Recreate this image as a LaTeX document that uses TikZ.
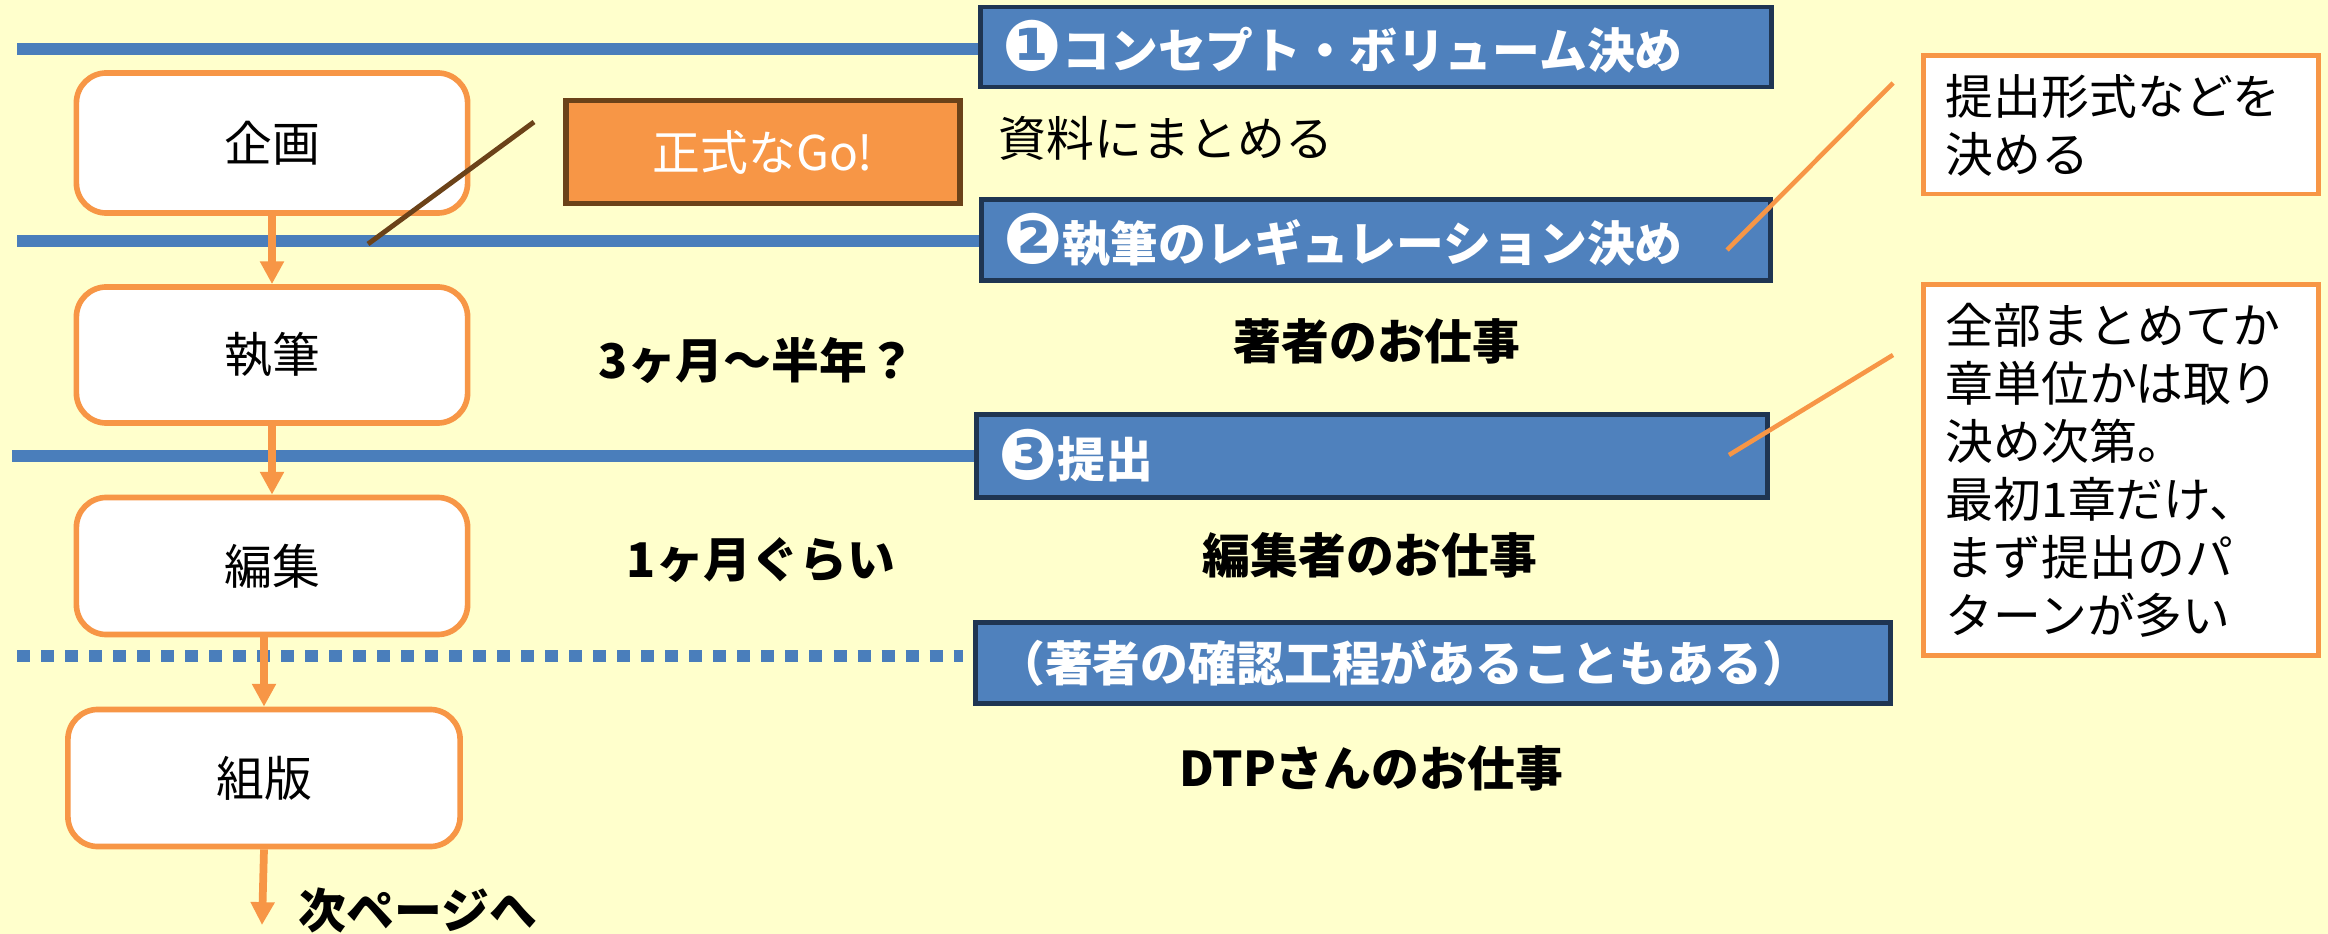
\documentclass[tikz,border=0pt]{standalone}
\usepackage{fontspec}
\setmainfont{Noto Sans CJK JP}
\newfontfamily\dingfont{DejaVu Sans}
\usetikzlibrary{arrows.meta,calc}
\definecolor{bgyellow}{HTML}{FFFFCC}
\definecolor{boxblue}{HTML}{4F81BD}
\definecolor{navy}{HTML}{1F3552}
\definecolor{lineblue}{HTML}{4A7EBB}
\definecolor{myorange}{HTML}{F79646}
\definecolor{mybrown}{HTML}{6B4219}
\newcommand{\bodyfont}{\fontsize{13.6pt}{16.5pt}\selectfont}
\newcommand{\circnum}[1]{{\dingfont\fontsize{20pt}{20pt}\selectfont\raisebox{-0.5pt}{#1}}}
\begin{document}
\begin{tikzpicture}[x=0.01cm,y=-0.01cm,
  lbl/.style={font=\bodyfont, inner sep=0pt},
  blbl/.style={font=\bodyfont\bfseries, inner sep=0pt},
  phase/.style={draw=myorange, line width=1.6pt, fill=white, rounded corners=0.3cm,
    minimum width=3.91cm, minimum height=1.37cm, inner sep=0pt, font=\bodyfont},
  milestone/.style={draw=navy, line width=1.4pt, fill=boxblue, text=white,
    inner xsep=0.22cm, inner ysep=0pt, align=left, font=\bodyfont\bfseries},
  note/.style={draw=myorange, line width=1.4pt, fill=white, text width=3.5cm,
    inner xsep=0.22cm, inner ysep=0pt, align=left, font=\bodyfont},
  gobox/.style={draw=mybrown, line width=1.5pt, fill=myorange, text=white,
    minimum width=3.94cm, minimum height=1.03cm, inner sep=0pt, font=\bodyfont},
  flow/.style={draw=myorange, line width=2.2pt, -{Triangle[width=6.5pt,length=6.5pt]}},
  track/.style={draw=lineblue, line width=3.3pt},
  callout/.style={draw=myorange, line width=1.3pt},
  brownline/.style={draw=mybrown, line width=1.4pt}
]
\fill[bgyellow] (0,0) rectangle (2328,934);
\useasboundingbox (0,0) rectangle (2328,934);

% milestone boxes
\node[milestone, text width=7.46cm, minimum height=0.80cm] (b1) at (1376,47)
  {\circnum{❶}コンセプト・ボリューム決め};
\node[milestone, text width=7.45cm, minimum height=0.81cm] (b2) at (1376,240)
  {\circnum{❷}執筆のレギュレーション決め};
\node[milestone, text width=7.47cm, minimum height=0.83cm] (b3) at (1372,456)
  {\circnum{❸}提出};
\node[milestone, text width=8.71cm, minimum height=0.81cm] (b4) at (1433,663)
  {（著者の確認工程があることもある）};

% tracks
\coordinate (t1) at (17,49);
\coordinate (t2) at (17,241);
\coordinate (t3) at (12,456);
\coordinate (t4) at (17,656);
\draw[track] (t1) -- (t1 -| b1.west);
\draw[track] (t2) -- (t2 -| b2.west);
\draw[track] (t3) -- (t3 -| b3.west);
\draw[track, dash pattern=on 0.13cm off 0.11cm] (t4) -- ($(t4 -| b4.west)+(-10,0)$);

% phases
\node[phase, minimum height=1.40cm] (kikaku) at (272,143) {企画};
\node[phase, minimum height=1.36cm] (shippitsu) at (272,355) {執筆};
\node[phase, minimum height=1.37cm] (hensyu) at (272,566) {編集};
\node[phase, minimum width=3.92cm, minimum height=1.37cm] (kumihan) at (264,778) {組版};

% go box
\node[gobox] (go) at (763,152) {正式なGo!};

% notes
\node[note, minimum height=1.38cm] (n1) at (2121,125) {提出形式などを\\決める};
\node[note, minimum height=3.71cm] (n2) at (2121,470)
  {全部まとめてか\\章単位かは取り\\決め次第。\\最初1章だけ、\\まず提出のパ\\ターンが多い};

% labels
\node[lbl] (shiryo) at (1166,138) {資料にまとめる};
\node[blbl] (dur1) at (757,361) {3ヶ月～半年？};
\node[blbl] (dur2) at (761,560) {1ヶ月ぐらい};
\node[blbl] (job1) at (1377,341) {著者のお仕事};
\node[blbl] (job2) at (1370,555) {編集者のお仕事};
\node[blbl] (job3) at (1371,768) {DTPさんのお仕事};
\node[blbl] (nextp) at (418,910) {次ページへ};

% flow arrows
\draw[flow] (kikaku.south) -- (shippitsu.north);
\draw[flow] (shippitsu.south) -- (hensyu.north);
\draw[flow] (kumihan.north |- hensyu.south) -- (kumihan.north);
\coordinate (nextpt) at (262,925);
\draw[flow] (kumihan.south) -- (nextpt);

% callout lines
\coordinate (g1) at (534,122);
\coordinate (g2) at (368,244);
\draw[brownline] (g1) -- (g2);
\coordinate (c1a) at (1893,83);
\coordinate (c1b) at (1727,250);
\draw[callout] (c1a) -- (c1b);
\coordinate (c2a) at (1893,355);
\coordinate (c2b) at (1729,455);
\draw[callout] (c2a) -- (c2b);
\end{tikzpicture}
\end{document}
